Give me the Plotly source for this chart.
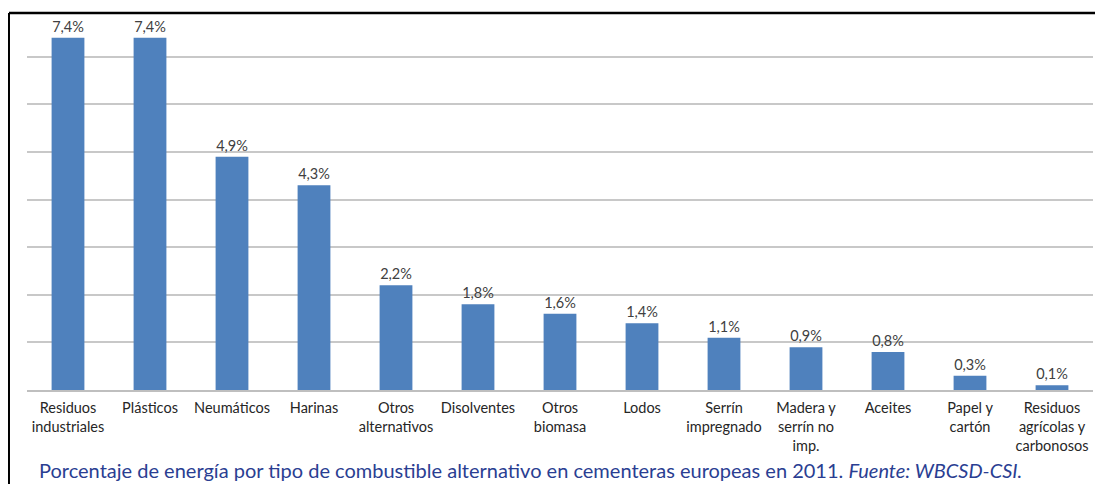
import plotly.graph_objects as go

categories = ["Residuos<br>industriales", "Plásticos", "Neumáticos", "Harinas",
              "Otros<br>alternativos", "Disolventes", "Otros<br>biomasa", "Lodos",
              "Serrín<br>impregnado", "Madera y<br>serrín no<br>imp.", "Aceites",
              "Papel y<br>cartón", "Residuos<br>agrícolas y<br>carbonosos"]
values = [7.4, 7.4, 4.9, 4.3, 2.2, 1.8, 1.6, 1.4, 1.1, 0.9, 0.8, 0.3, 0.1]
labels = [f"{v:.1f}%".replace(".", ",") for v in values]
caption = ("Porcentaje de energía por tipo de combustible alternativo en cementeras europeas en 2011. "
           "<i>Fuente: WBCSD-CSI.</i>")

FONT = "Lato"

fig = go.Figure(go.Bar(
    x=categories, y=values, text=labels, textposition="outside",
    textfont=dict(family=FONT, size=14.5, color="#404040"),
    marker=dict(color="#4F81BD", line=dict(width=0)),
    width=0.4, cliponaxis=False,
))

# page has an 8px body margin, so the figure is drawn 8px smaller and offset
fig.update_layout(
    width=1095, height=476,
    margin=dict(l=19, r=10, t=5, b=94, autoexpand=False),
    paper_bgcolor="white", plot_bgcolor="white",
    showlegend=False,
    font=dict(family=FONT, size=14, color="#262626"),
    xaxis=dict(showline=True, linecolor="#BFBFBF", linewidth=1.5, ticks="",
               automargin=False, tickangle=0, ticklabelstandoff=4,
               tickfont=dict(family=FONT, size=14.5, color="#262626")),
    yaxis=dict(range=[0, 7.92], dtick=1, showticklabels=False, showgrid=True,
               automargin=False,
               gridcolor="#C8C8C8", gridwidth=1.5, zeroline=False),
    bargap=0.6,
)

# frame lines (top and left)
fig.add_shape(type="line", xref="paper", yref="paper", x0=-0.0169, x1=1.0094, y0=1.0, y1=1.0,
              line=dict(color="black", width=2.5))
fig.add_shape(type="line", xref="paper", yref="paper", x0=-0.0169, x1=-0.0169, y0=1.0, y1=-0.25,
              line=dict(color="black", width=2))

fig.add_annotation(text=caption, xref="paper", yref="paper", x=0.0094, y=-0.212,
                   xanchor="left", yanchor="middle", showarrow=False,
                   font=dict(family=FONT, size=20, color="#2A3E92"))

fig.write_html("out.html")
